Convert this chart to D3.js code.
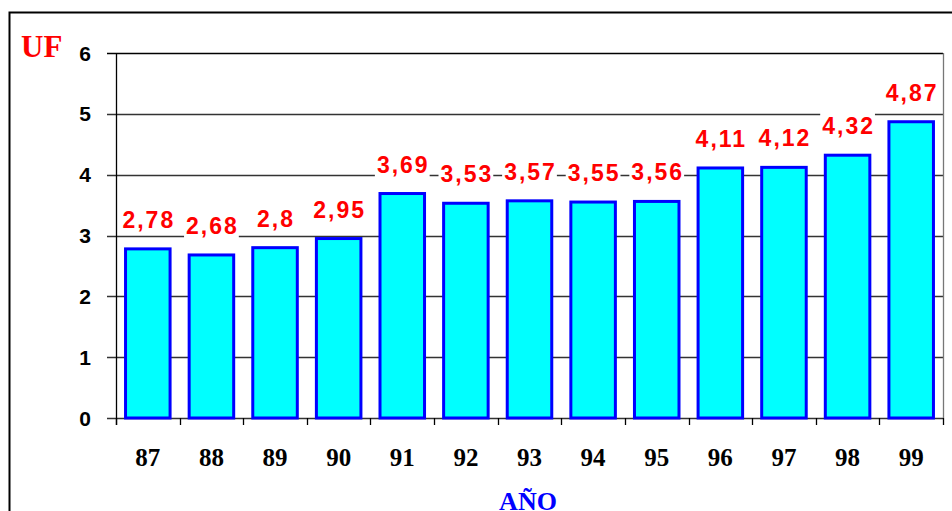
<!DOCTYPE html>
<html lang="es">
<head>
<meta charset="UTF-8">
<script src="https://d3js.org/d3.v7.min.js"></script>
<style>
  body { margin: 0; background: #fff; }
  .ytick { font: bold 21px Arial, "Liberation Sans", sans-serif; }
  .xtick { font: bold 25px "Times New Roman", "Liberation Serif", serif; }
  .val { font: bold 23px Arial, "Liberation Sans", sans-serif; fill: #ff0000; letter-spacing: 2px; }
</style>
</head>
<body>
<script>
const years = ["87","88","89","90","91","92","93","94","95","96","97","98","99"];
const values = [2.78, 2.68, 2.8, 2.95, 3.69, 3.53, 3.57, 3.55, 3.56, 4.11, 4.12, 4.32, 4.87];
const labels = ["2,78","2,68","2,8","2,95","3,69","3,53","3,57","3,55","3,56","4,11","4,12","4,32","4,87"];
const yTicks = [0, 1, 2, 3, 4, 5, 6];

const width = 952, height = 511;
const plot = { left: 116, top: 53, right: 943, bottom: 418 };

const svg = d3.select("body").append("svg")
    .attr("width", width)
    .attr("height", height);

// outer frame
svg.append("path")
    .attr("d", `M9.5,${height} V12.5 H${width}`)
    .attr("fill", "none").attr("stroke", "#000").attr("stroke-width", 2);

const x = d3.scaleBand().domain(years).range([plot.left, plot.right]).paddingInner(0.3).paddingOuter(0.15);
const y = d3.scaleLinear().domain([0, 6]).range([plot.bottom, plot.top]);

// gridlines + y ticks
const grid = svg.append("g");
grid.selectAll("line.grid").data(yTicks).enter().append("line")
    .attr("x1", plot.left - 9).attr("x2", plot.right)
    .attr("y1", d => Math.round(y(d)) + 0.5).attr("y2", d => Math.round(y(d)) + 0.5)
    .attr("stroke", d => d === 6 ? "#000" : "#333").attr("stroke-width", 1.3);
grid.selectAll("text").data(yTicks).enter().append("text")
    .attr("class", "ytick")
    .attr("x", 91).attr("y", d => y(d) + 7.5)
    .attr("text-anchor", "end")
    .text(d => d);

// plot frame: left axis and right border
svg.append("line").attr("x1", plot.left + 0.5).attr("x2", plot.left + 0.5)
    .attr("y1", plot.top).attr("y2", plot.bottom + 7).attr("stroke", "#000").attr("stroke-width", 1.3);
svg.append("line").attr("x1", plot.right + 0.5).attr("x2", plot.right + 0.5)
    .attr("y1", plot.top).attr("y2", plot.bottom).attr("stroke", "#777").attr("stroke-width", 1.3);

// x ticks at category boundaries
const bounds = d3.range(years.length + 1).map(i => plot.left + i * (plot.right - plot.left) / years.length);
svg.append("g").selectAll("line").data(bounds).enter().append("line")
    .attr("x1", d => Math.round(d) + 0.5).attr("x2", d => Math.round(d) + 0.5)
    .attr("y1", plot.bottom).attr("y2", plot.bottom + 7)
    .attr("stroke", "#000").attr("stroke-width", 1.3);

// bars
svg.append("g").selectAll("rect").data(values).enter().append("rect")
    .attr("x", (d, i) => x(years[i]))
    .attr("y", d => y(d))
    .attr("width", x.bandwidth())
    .attr("height", d => y(0) - y(d))
    .attr("fill", "#00ffff")
    .attr("stroke", "#0000ff")
    .attr("stroke-width", 3);

// value labels with white backgrounds
const vals = svg.append("g").selectAll("g").data(values).enter().append("g")
    .attr("transform", (d, i) => `translate(${x(years[i]) + x.bandwidth() / 2 + 1},${y(d) - 21})`);
vals.append("text")
    .attr("class", "val")
    .attr("text-anchor", "middle")
    .text((d, i) => labels[i]);
vals.each(function() {
    const g = d3.select(this);
    const b = g.select("text").node().getBBox();
    g.insert("rect", "text")
        .attr("x", b.x - 2).attr("y", b.y - 1)
        .attr("width", b.width + 2).attr("height", b.height + 2)
        .attr("fill", "#fff");
});

// x tick labels
svg.append("g").selectAll("text").data(years).enter().append("text")
    .attr("class", "xtick")
    .attr("x", d => x(d) + x.bandwidth() / 2)
    .attr("y", 466)
    .attr("text-anchor", "middle")
    .text(d => d);

// axis titles
svg.append("text")
    .attr("x", 21).attr("y", 57)
    .attr("fill", "#ff0000")
    .style("font", "bold 31px 'Times New Roman', 'Liberation Serif', serif")
    .text("UF");
svg.append("text")
    .attr("x", 528).attr("y", 510)
    .attr("text-anchor", "middle")
    .attr("fill", "#0000ff")
    .style("font", "bold 26px 'Times New Roman', 'Liberation Serif', serif")
    .text("AÑO");
</script>
</body>
</html>
